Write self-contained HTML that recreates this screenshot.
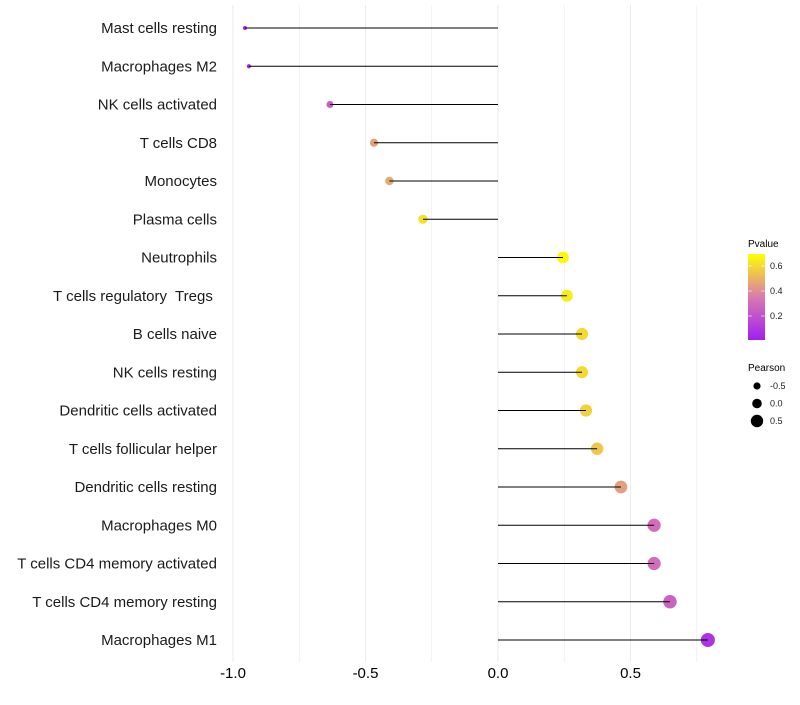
<!DOCTYPE html>
<html><head><meta charset="utf-8"><style>
body{margin:0;background:#fff;font-family:"Liberation Sans",sans-serif;}
svg text{font-family:"Liberation Sans",sans-serif;white-space:pre;}
</style></head><body>
<svg id="chart" width="800" height="700" xmlns="http://www.w3.org/2000/svg">
<defs><linearGradient id="pg" x1="0" y1="1" x2="0" y2="0">
<stop offset="0" stop-color="#a020f0"/><stop offset="0.5" stop-color="#d97ab0"/><stop offset="1" stop-color="#ffff00"/>
</linearGradient></defs>
<g id="grid"></g>
<g id="marks"></g>
<g id="ylabels"></g>
<g id="xlabels"></g>
<g>
<text x="748" y="247" font-size="10">Pvalue</text>
<rect x="748" y="254" width="17" height="86" fill="url(#pg)"/>
<g id="pleg"></g>
</g>
<g>
<text x="748" y="371" font-size="10">Pearson</text>
<g id="sleg"></g>
</g>
</svg>
<script>
const categories=["Mast cells resting","Macrophages M2","NK cells activated","T cells CD8","Monocytes","Plasma cells","Neutrophils","T cells regulatory  Tregs ","B cells naive","NK cells resting","Dendritic cells activated","T cells follicular helper","Dendritic cells resting","Macrophages M0","T cells CD4 memory activated","T cells CD4 memory resting","Macrophages M1"];
const pearson=[-0.955,-0.94,-0.634,-0.468,-0.41,-0.283,0.245,0.26,0.317,0.317,0.332,0.374,0.464,0.589,0.589,0.649,0.792];
const pvalue=[0.03,0.04,0.25,0.45,0.48,0.62,0.68,0.65,0.6,0.6,0.58,0.55,0.45,0.3,0.3,0.26,0.08];
const xTicks=[-1.0,-0.5,0.0,0.5];
const xTickLabels=["-1.0","-0.5","0.0","0.5"];
const pTicks=[0.2,0.4,0.6];
const sizeTicks=[-0.5,0.0,0.5];
const NS="http://www.w3.org/2000/svg";
const X=v=>498+v*265;
const Y=i=>28+i*38.25;
const R=v=>Math.sqrt(Math.max(1,4+25.8*(v+0.955)));
const PY=p=>341-p*125;
function col(p){
  const t=Math.max(0,Math.min(1,p/0.7));
  const a=[[0xa0,0x20,0xf0],[0xd9,0x7a,0xb0],[0xff,0xff,0x00]];
  let s,u; if(t<0.5){s=0;u=t/0.5;}else{s=1;u=(t-0.5)/0.5;}
  const c=a[s].map((v,k)=>Math.round(v+(a[s+1][k]-v)*u));
  return `rgb(${c[0]},${c[1]},${c[2]})`;
}
function mk(tag,attrs,parent,text){const e=document.createElementNS(NS,tag);for(const k in attrs)e.setAttribute(k,attrs[k]);if(text!==undefined)e.textContent=text;parent.appendChild(e);return e;}
const grid=document.getElementById('grid'),marks=document.getElementById('marks'),yl=document.getElementById('ylabels'),xl=document.getElementById('xlabels');
for(let v=-1;v<=0.76;v+=0.25){const g=mk('line',{x1:X(v),x2:X(v),y1:5,y2:662,stroke:'#ebebeb','stroke-width':Math.abs((v*4)%2)<0.01?1:0.6},grid);
}
xTicks.forEach((v,i)=>{const t=mk('text',{x:X(v),y:678,'font-size':15,'text-anchor':'middle',fill:'#000'},xl,xTickLabels[i]);
});
categories.forEach((c,i)=>{
  const t=mk('text',{x:217,y:Y(i)+5,'font-size':15,'text-anchor':'end',fill:'#1a1a1a'},yl,c);
  
  const p=mk('circle',{cx:X(pearson[i]),cy:Y(i),r:R(pearson[i]),fill:col(pvalue[i])},marks);
  
  const l=mk('line',{x1:X(0),x2:X(pearson[i]),y1:Y(i),y2:Y(i),stroke:'#000','stroke-width':1},marks);
  
});
const pleg=document.getElementById('pleg');
pTicks.forEach(p=>{
  const l=mk('line',{x1:748,x2:752,y1:PY(p),y2:PY(p),stroke:'#fff','stroke-width':0.8,opacity:0.7},pleg);
  
  const l2=mk('line',{x1:761,x2:765,y1:PY(p),y2:PY(p),stroke:'#fff','stroke-width':0.8,opacity:0.7},pleg);
  
  const t=mk('text',{x:770,y:PY(p)+3,'font-size':9,fill:'#1a1a1a'},pleg,p.toFixed(1));
  
});
const sleg=document.getElementById('sleg');
const legR=[3.6,4.8,6.2];
sizeTicks.forEach((s,i)=>{
  const cy=386+i*17.5;
  const c=mk('circle',{cx:757,cy:cy,r:legR[i],fill:'#000'},sleg);
  
  const t=mk('text',{x:770,y:cy+3,'font-size':9,fill:'#1a1a1a'},sleg,s.toFixed(1));
  
});
</script>
</body></html>
